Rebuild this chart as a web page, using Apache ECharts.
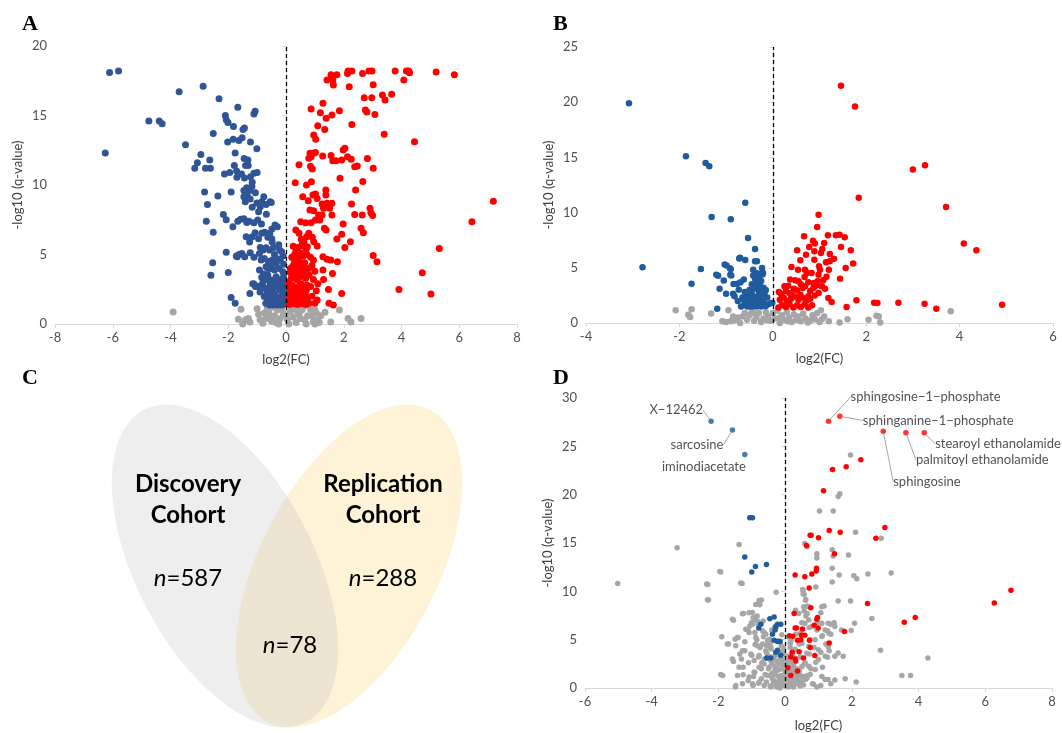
<!DOCTYPE html>
<html>
<head>
<meta charset="utf-8">
<script src="https://cdn.jsdelivr.net/npm/echarts/dist/echarts.min.js"></script>
<style>
  html, body { margin: 0; padding: 0; background: #fff; }
  #chart { width: 1062px; height: 733px; }
</style>
</head>
<body>
<div id="chart"></div>
<script>
// ---- panel A: discovery cohort volcano ----
var aDown = [[-6.11,18.1],[-5.8,18.2],[-6.26,12.3],[-4.75,14.6],[-4.39,14.6],[-4.29,14.4],[-3.7,16.7],[-2.87,17.1],[-3.48,12.9],[-2.95,12.2],[-2.64,11.8],[-3.07,11.6],[-3.16,11.2],[-2.79,11.2],[-2.62,11.2],[-2.82,9.5],[-2.72,8.6],[-2.76,7.4],[-2.52,6.6],[-2.36,9.2],[-2.54,4.4],[-2.6,3.5],[-2.07,5.16],[-2.0,3.7],[-1.9,1.9],[-1.76,1.5],[-2.32,16.2],[-1.67,15.6],[-1.11,15.1],[-1.07,15.3],[-2.1,15.0],[-2.07,14.7],[-2.01,14.5],[-1.82,14.2],[-2.52,13.7],[-1.49,14.0],[-1.44,14.1],[-2.02,13.1],[-1.83,13.3],[-1.63,13.2],[-1.52,13.4],[-1.23,13.1],[-1.01,12.6],[-1.76,12.3],[-1.45,11.9],[-1.32,11.8],[-1.4,11.4],[-1.31,11.4],[-1.79,11.4],[-1.71,11.0],[-2.13,10.8],[-1.95,10.9],[-1.7,10.55],[-1.54,10.8],[-1.44,10.5],[-1.23,10.6],[-1.11,10.85],[-1.17,10.2],[-1.0,10.9],[-1.9,9.5],[-1.46,9.6],[-1.36,9.8],[-1.26,9.6],[-1.34,9.2],[-1.41,8.8],[-1.24,9.0],[-1.46,9.16],[-1.18,9.9],[-1.06,9.45],[-0.77,9.16],[-0.51,8.75],[-0.69,8.6],[-0.89,8.44],[-0.95,8.08],[-1.17,8.4],[-1.01,8.7],[-0.84,8.8],[-2.17,7.87],[-2.07,7.5],[-1.84,7.0],[-1.67,7.4],[-1.57,7.53],[-1.46,7.58],[-1.36,7.3],[-1.28,7.39],[-1.11,7.29],[-0.98,7.48],[-0.85,7.19],[-0.68,7.89],[-0.74,6.6],[-0.49,6.83],[-0.3,7.0],[-0.38,7.12],[-1.38,6.28],[-1.26,5.9],[-1.07,6.57],[-0.95,6.14],[-1.17,6.28],[-0.84,6.52],[-0.56,6.52],[-0.63,6.24],[-0.49,6.14],[-1.69,4.84],[-1.53,5.08],[-1.24,5.13],[-1.11,4.8],[-0.89,5.5],[-0.79,5.32],[-0.69,5.49],[-0.57,5.32],[-0.43,5.5],[-0.22,5.32],[-0.92,5.08],[-0.86,4.6],[-0.75,4.72],[-0.61,4.5],[-0.48,4.6],[-0.34,4.36],[-0.2,4.6],[-0.69,4.12],[-0.52,4.0],[-0.4,3.88],[-0.23,4.0],[-0.11,3.76],[-0.92,3.88],[-0.84,3.36],[-0.69,3.21],[-0.63,3.53],[-0.49,3.17],[-0.34,3.4],[-0.23,3.17],[-0.09,3.36],[-1.11,2.88],[-1.01,2.69],[-0.89,2.73],[-0.75,2.57],[-0.57,2.69],[-0.46,2.49],[-0.33,2.69],[-0.2,2.49],[-0.08,2.69],[-1.25,2.2],[-0.75,1.97],[-0.63,1.77],[-0.52,1.97],[-0.4,1.73],[-0.29,1.92],[-0.15,1.73],[-0.06,1.97],[-0.57,1.37],[-0.43,1.37],[-0.29,1.37],[-0.15,1.37],[-0.06,1.44],[-0.7,1.49],[-1.72,4.9],[-1.63,5.0],[-1.43,4.83],[-1.15,2.9],[-1.06,2.7],[-0.55,8.8],[-0.8,3.0],[-0.55,3.0],[-0.3,3.0],[-0.12,2.2],[-0.38,2.2],[-0.65,2.2],[-0.9,2.3],[-0.48,5.9],[-0.25,5.7],[-0.15,5.2],[-0.1,4.9],[-0.4,5.0],[-0.62,4.0],[-0.78,3.6],[-0.1,1.8],[-0.25,1.55],[-0.5,1.6],[-0.35,2.95],[-0.6,2.4],[-0.18,2.8],[-0.3,4.7],[-0.08,4.3],[-0.55,4.3],[-0.05,2.3],[-0.05,3.0]];
var aUp = [[2.15,18.2],[2.13,18.03],[2.28,18.2],[2.65,18.03],[2.87,18.2],[2.98,18.2],[3.78,18.2],[4.17,18.2],[4.25,18.2],[4.28,18.08],[5.2,18.13],[5.83,17.94],[1.56,17.94],[1.76,17.94],[1.42,17.55],[1.62,17.55],[1.64,17.2],[2.19,17.07],[3.02,17.22],[4.08,17.55],[2.71,16.28],[2.97,16.28],[3.34,16.47],[3.43,16.12],[3.66,16.52],[1.28,15.88],[0.87,15.47],[1.19,15.2],[1.59,15.04],[1.85,15.35],[1.39,14.8],[2.75,15.4],[2.8,15.25],[3.08,15.08],[1.1,14.27],[1.34,14.0],[2.28,14.36],[3.4,13.65],[4.45,13.12],[0.96,13.6],[1.03,13.3],[0.83,12.28],[0.94,12.28],[0.79,11.92],[0.87,12.04],[1.02,12.33],[1.27,12.09],[1.56,12.13],[1.62,11.75],[1.73,11.75],[1.93,11.8],[1.98,12.52],[2.04,12.64],[2.13,12.04],[2.26,11.85],[2.38,11.32],[2.47,11.37],[2.82,11.9],[3.02,11.2],[0.45,11.46],[0.85,11.34],[0.91,11.15],[0.32,10.17],[0.71,10.0],[0.88,10.24],[1.87,10.48],[2.66,10.26],[1.38,9.64],[1.38,9.28],[0.58,9.16],[0.77,8.87],[0.93,9.28],[1.02,9.35],[1.08,9.02],[2.41,9.64],[1.25,8.63],[1.42,8.68],[1.59,8.68],[1.3,8.32],[0.96,8.15],[0.83,8.2],[1.13,7.84],[1.25,7.84],[1.59,7.84],[1.51,8.32],[2.27,8.63],[2.38,7.87],[2.64,7.84],[2.91,8.32],[2.94,8.0],[3.0,7.8],[0.51,7.36],[0.68,7.29],[0.87,7.29],[1.02,7.48],[1.17,7.48],[1.33,6.88],[1.39,6.76],[1.98,7.19],[1.93,6.45],[1.76,6.12],[2.23,5.92],[2.6,6.88],[2.68,6.57],[0.34,6.76],[0.45,6.52],[0.53,6.09],[0.62,5.92],[0.71,6.28],[0.79,6.52],[0.91,6.24],[0.96,5.92],[1.08,5.61],[0.57,5.61],[0.74,5.56],[0.34,5.2],[2.04,5.5],[1.28,4.84],[1.42,4.65],[1.55,4.6],[1.78,4.48],[1.28,3.88],[1.61,3.64],[1.3,3.21],[1.47,2.49],[1.93,2.2],[1.49,1.49],[1.64,1.37],[1.0,1.49],[1.08,1.73],[3.02,4.92],[3.15,4.48],[3.91,2.49],[4.72,3.69],[5.02,2.16],[5.31,5.44],[6.44,7.36],[7.18,8.83],[0.12,1.4],[0.2,1.5],[0.3,1.45],[0.4,1.4],[0.5,1.5],[0.6,1.45],[0.7,1.4],[0.8,1.5],[0.15,2.0],[0.25,2.1],[0.35,1.9],[0.45,2.2],[0.55,2.0],[0.65,2.1],[0.75,1.9],[0.9,2.0],[0.12,2.6],[0.22,2.8],[0.32,2.5],[0.42,2.7],[0.52,2.9],[0.62,2.6],[0.72,2.8],[0.85,2.7],[0.18,3.3],[0.28,3.5],[0.38,3.2],[0.48,3.4],[0.58,3.6],[0.68,3.3],[0.8,3.5],[0.95,3.2],[0.15,4.0],[0.25,4.2],[0.35,3.9],[0.45,4.3],[0.55,4.1],[0.65,4.4],[0.78,4.0],[0.9,4.2],[0.2,4.8],[0.3,5.0],[0.4,4.7],[0.5,5.1],[0.6,4.9],[0.72,5.0],[0.85,4.8],[0.25,5.6],[0.4,5.5],[0.55,5.7],[0.7,5.4],[0.1,3.0],[0.1,2.2],[0.1,1.7],[0.18,1.6],[0.28,1.75],[0.38,1.65],[0.48,1.8],[0.58,1.7],[0.68,1.75],[0.2,2.4],[0.3,2.3],[0.4,2.45],[0.5,2.5],[0.6,2.35],[0.7,2.4],[0.15,3.7],[0.35,3.6],[0.5,3.8],[0.65,3.9],[0.3,4.5],[0.45,4.6],[1.05,2.4],[1.1,2.9],[1.0,3.8],[0.95,4.6]];
var aNs = [[-3.91,0.87],[-1.56,1.06],[-1.65,0.35],[-1.4,0.3],[-1.3,0.4],[-1.5,0.0],[-1.25,0.15],[-0.95,0.7],[-0.75,0.8],[-0.6,0.9],[-0.9,0.3],[-0.7,0.4],[-0.5,0.2],[-0.4,0.6],[-0.3,1.0],[-0.2,0.4],[-0.1,0.8],[0.05,0.3],[0.15,0.9],[0.25,0.5],[0.35,0.1],[0.45,0.7],[0.55,1.0],[0.65,0.3],[0.75,0.6],[0.85,1.05],[0.95,0.2],[1.05,0.8],[1.1,0.3],[1.15,0.1],[1.35,0.85],[1.55,0.15],[1.85,1.0],[2.15,0.4],[2.25,0.15],[2.6,0.4],[-0.8,0.05],[-0.55,0.5],[-0.35,0.1],[-0.15,1.15],[0.0,0.6],[0.1,0.0],[0.3,1.1],[0.5,0.4],[0.7,0.0],[0.9,0.6],[1.0,1.0],[-1.0,1.1],[-0.65,1.15],[0.2,1.2],[0.6,1.2],[-0.25,0.0],[-0.45,1.2],[0.4,0.9],[1.2,0.6],[1.0,0.0]];

// ---- panel B: replication cohort volcano ----
var bDown = [[-3.08,19.9],[-2.79,5.04],[-1.86,15.1],[-1.44,14.5],[-1.36,14.2],[-1.31,9.6],[-0.9,9.4],[-0.59,10.9],[-0.53,7.7],[-0.38,6.7],[-1.54,4.9],[-1.74,3.56],[-0.99,5.2],[-0.9,4.9],[-0.72,5.85],[-0.7,5.9],[-0.59,5.7],[-0.38,5.6],[-0.34,5.6],[-1.17,4.29],[-0.89,4.3],[-1.19,1.3],[-0.42,4.83],[-0.23,4.98],[-0.21,4.53],[-1.03,5.29],[-0.92,4.95],[-1.21,4.38],[-1.05,3.84],[-1.14,3.11],[-1.0,2.66],[-0.91,4.38],[-0.84,3.53],[-0.76,3.56],[-0.69,3.68],[-0.62,3.93],[-0.73,3.02],[-0.85,2.66],[-0.82,2.42],[-0.75,1.99],[-0.62,2.11],[-0.55,1.5],[-0.45,1.5],[-0.35,1.5],[-0.25,1.5],[-0.15,1.55],[-0.5,2.0],[-0.4,2.1],[-0.3,1.9],[-0.2,2.0],[-0.55,2.5],[-0.45,2.6],[-0.35,2.4],[-0.25,2.5],[-0.5,3.0],[-0.4,3.1],[-0.3,2.9],[-0.2,3.2],[-0.45,3.5],[-0.35,3.6],[-0.28,3.4],[-0.38,4.0],[-0.3,4.2],[-0.42,4.3],[-0.33,4.5],[-0.6,1.8],[-0.65,2.3],[-0.1,1.7],[-0.12,2.3],[-0.05,1.8],[-0.68,1.5],[-0.18,2.7],[-0.6,2.8],[-0.25,3.8],[-0.15,3.0],[-0.01,1.84],[-0.4,1.65],[-0.3,2.2],[-0.48,2.35],[-0.36,3.3],[-0.22,4.4]];
var bUp = [[1.46,21.5],[1.76,19.6],[1.84,11.35],[3.0,13.9],[3.26,14.3],[3.71,10.5],[4.09,7.2],[4.36,6.6],[0.98,9.8],[0.95,8.7],[0.67,7.85],[0.86,7.46],[0.9,7.19],[1.18,7.95],[1.35,7.95],[1.43,8.0],[1.54,7.76],[1.46,6.89],[1.67,6.59],[1.72,5.38],[1.56,4.98],[1.44,4.0],[0.78,6.89],[0.52,6.59],[1.1,7.25],[1.06,6.7],[1.03,6.34],[0.89,6.5],[0.89,5.74],[0.71,6.19],[1.22,6.25],[1.31,5.83],[1.22,5.59],[1.14,5.5],[0.99,5.14],[0.59,5.68],[0.4,5.08],[0.54,4.83],[0.69,4.83],[0.73,4.53],[0.83,4.53],[1.01,4.83],[0.98,4.38],[1.2,4.83],[0.37,3.93],[0.48,3.87],[0.55,3.78],[0.68,4.17],[0.76,3.69],[0.88,3.63],[0.96,3.78],[1.08,3.87],[0.25,3.32],[0.33,3.38],[0.64,3.17],[0.69,3.32],[0.87,3.17],[0.98,2.72],[1.05,3.32],[0.13,2.81],[0.41,2.57],[0.52,2.96],[0.59,2.57],[0.76,2.42],[0.73,2.11],[1.19,2.27],[1.26,1.9],[1.58,1.45],[1.79,2.05],[2.17,1.84],[2.24,1.81],[2.69,1.84],[3.25,1.75],[3.5,1.3],[4.91,1.66],[0.12,1.4],[0.2,1.6],[0.28,1.45],[0.36,1.7],[0.44,1.4],[0.52,1.6],[0.6,1.45],[0.68,1.7],[0.76,1.4],[0.84,1.6],[0.15,2.1],[0.23,2.3],[0.31,2.0],[0.39,2.2],[0.47,2.4],[0.55,2.1],[0.63,2.3],[0.71,2.0],[0.8,2.2],[0.9,2.5],[0.18,2.6],[0.28,2.9],[0.36,2.7],[0.45,3.1],[0.6,3.5],[0.8,2.9],[0.94,3.4],[1.12,3.1],[1.15,4.2],[0.3,1.95]];
var bNs = [[-2.08,1.15],[-1.74,1.24],[-1.81,0.75],[-1.77,0.55],[-1.32,0.85],[-0.95,1.15],[-1.08,0.15],[-1.0,0.1],[-0.9,0.15],[-0.82,0.25],[-0.7,0.0],[-0.65,0.6],[-0.6,0.9],[-0.55,0.3],[-0.5,0.7],[-0.45,1.1],[-0.4,0.2],[-0.35,0.5],[-0.3,0.9],[-0.25,0.1],[-0.2,0.4],[-0.15,1.0],[-0.1,0.6],[-0.05,0.2],[0.0,0.9],[0.05,0.4],[0.1,1.1],[0.15,0.0],[0.2,0.7],[0.25,0.3],[0.3,1.0],[0.35,0.5],[0.4,0.1],[0.45,0.8],[0.5,0.3],[0.55,0.6],[0.6,0.15],[0.7,0.4],[0.8,0.2],[0.9,0.35],[1.03,1.15],[1.0,0.1],[1.2,0.15],[1.43,0.05],[1.6,0.35],[2.05,0.3],[2.22,0.65],[2.27,0.6],[2.3,0.05],[3.81,1.06],[1.05,0.35],[-0.75,0.5],[0.65,0.85],[-0.85,0.6],[0.85,0.7],[0.15,0.5],[-0.12,0.25],[0.32,0.15],[0.75,0.05],[-0.38,0.85],[1.1,0.6],[0.95,0.9]];

// ---- panel C: overlap of the two cohorts ----
var vennSets = ['Discovery\nCohort', 'Replication\nCohort'];
var vennCounts = [587, 288, 78]; // discovery only, replication only, both

// ---- panel D: named metabolites ----
var dDown = [[-1.06,17.6],[-0.98,17.6],[-1.21,13.56],[-0.89,12.57],[-0.56,12.78],[-1.0,12.0],[-0.73,6.6],[-0.79,6.2],[-0.46,7.17],[-0.33,7.35],[-0.28,6.3],[-0.23,6.6],[-0.13,6.6],[-0.3,6.0],[-0.38,5.57],[-0.33,4.95],[-0.23,4.8],[-0.15,4.8],[-0.28,3.7],[-0.23,3.9],[-0.55,3.1],[-0.43,3.1],[-0.13,3.4]];
var dUp = [[2.27,23.6],[1.83,22.9],[1.42,22.6],[1.15,20.4],[2.99,16.6],[2.72,15.5],[1.32,16.3],[1.65,16.1],[0.75,15.8],[0.78,15.8],[1.0,15.55],[0.64,14.75],[1.48,13.9],[0.94,12.4],[0.93,12.1],[0.8,11.8],[0.3,11.7],[0.59,11.5],[0.72,10.35],[0.77,8.3],[6.77,10.1],[6.27,8.8],[2.47,8.75],[3.9,7.3],[3.57,6.8],[1.78,5.85],[1.32,4.65],[0.27,7.7],[0.95,7.1],[0.97,7.3],[0.87,6.5],[0.99,6.2],[0.3,6.2],[0.34,6.2],[0.52,6.1],[0.13,5.4],[0.23,5.35],[0.49,5.45],[0.59,5.45],[0.37,4.95],[0.47,5.0],[0.73,4.95],[0.75,4.2],[0.21,3.7],[0.42,3.75],[0.17,3.2],[0.3,3.0],[0.32,2.8],[0.55,3.1],[0.89,3.35],[0.08,2.1],[0.17,1.3],[0.37,1.75]];
var dNs = [[-5.02,10.8],[-3.24,14.5],[-1.38,14.85],[-1.93,12.0],[-2.32,10.7],[-2.3,9.1],[-1.29,10.8],[-0.27,9.9],[-0.71,9.1],[-0.76,8.6],[-1.25,7.7],[-1.55,7.0],[-0.98,7.8],[-0.84,7.44],[-0.91,7.1],[-1.01,6.76],[-0.81,6.59],[-0.66,6.93],[-1.11,6.0],[-1.41,5.22],[-1.5,5.05],[-1.7,4.54],[-1.21,4.78],[-1.36,3.52],[-1.21,3.86],[-1.31,3.0],[-1.55,2.73],[-1.87,1.3],[-1.26,2.15],[-1.26,1.37],[-1.49,0.1],[-1.11,0.78],[-0.96,0.27],[-0.91,1.64],[-0.71,1.98],[-0.63,3.0],[-0.51,3.34],[-0.42,4.03],[-0.56,4.37],[-0.91,5.73],[-1.06,6.42],[-0.63,5.73],[-0.47,5.05],[-0.32,6.08],[-0.22,3.69],[-0.12,4.37],[-0.3,1.98],[-0.4,1.13],[-0.56,0.61],[-0.71,0.96],[-0.22,0.61],[-0.12,1.3],[-0.07,2.32],[-0.45,0.2],[-0.35,0.5],[-0.25,0.1],[-0.15,0.8],[-0.05,0.3],[0.05,1.0],[0.15,0.4],[0.25,0.1],[-0.3,1.4],[-0.2,1.9],[-0.1,2.6],[0.0,1.6],[0.1,2.2],[0.2,0.9],[0.3,0.5],[-0.4,2.5],[-0.5,2.0],[-0.6,1.4],[-0.35,3.0],[-0.25,2.8],[-0.15,3.2],[-0.05,2.0],[0.05,2.8],[0.15,1.7],[0.25,2.4],[0.35,1.2],[0.45,0.7],[0.55,0.3],[0.65,1.0],[-0.7,2.6],[-0.8,3.2],[-0.55,3.6],[-0.45,4.6],[-0.2,4.9],[-0.1,5.5],[-0.3,6.4],[-0.4,6.0],[-0.05,3.6],[0.1,3.3],[-0.75,4.2],[-0.85,5.0],[-0.65,5.3],[-0.9,4.5],[-1.0,3.4],[-1.1,2.6],[-0.95,1.2],[-0.8,0.5],[0.4,1.6],[1.96,24.1],[1.59,19.8],[1.64,20.1],[1.03,18.3],[1.44,18.3],[2.11,16.1],[2.88,15.5],[0.59,14.95],[0.66,14.6],[0.95,13.45],[0.95,13.9],[1.41,14.3],[1.44,13.65],[1.9,13.75],[1.41,12.4],[1.62,11.7],[2.06,11.6],[2.15,11.3],[2.48,11.8],[3.18,11.9],[1.41,10.96],[0.92,10.44],[0.54,10.1],[1.59,9.0],[1.96,9.0],[1.1,8.4],[2.6,7.2],[2.08,6.69],[2.86,3.9],[4.28,3.1],[3.5,1.3],[3.76,1.3],[2.13,0.61],[1.8,0.96],[1.49,0.82],[1.2,0.89],[0.54,9.76],[0.61,9.08],[0.56,8.4],[0.66,7.71],[0.71,7.03],[0.8,6.35],[0.95,6.0],[1.1,6.69],[1.29,6.69],[1.47,6.76],[1.2,6.0],[1.31,5.67],[1.49,6.35],[1.69,6.0],[1.98,5.94],[1.1,5.32],[0.9,4.98],[0.71,4.3],[1.29,4.3],[1.49,3.28],[1.2,3.28],[1.0,2.94],[0.71,2.25],[0.41,1.57],[0.9,1.91],[1.29,0.89],[0.61,0.89],[0.31,0.55],[1.59,3.62],[1.0,3.96],[0.75,4.98],[1.74,3.28],[0.59,6.69],[0.46,5.67],[0.31,8.05],[0.41,7.71],[0.71,8.4],[0.05,0.2],[0.15,1.3],[0.25,0.7],[0.35,2.0],[0.45,0.2],[0.55,1.2],[0.2,3.0],[0.3,4.0],[0.45,3.2],[0.6,2.6],[0.75,1.4],[0.85,0.4],[0.95,0.1],[1.1,1.2],[0.15,4.6],[0.5,4.6],[0.1,5.3],[0.65,3.6],
  [-1.96,12.06],[-2.35,10.76],[-2.33,9.12],[-1.33,10.86],[-0.78,9.05],[-0.88,8.64],[-1.28,7.69],[-1.58,7.1],[-1.08,7.79],[-0.96,7.28],[-0.83,6.94],[-0.73,6.59],[-0.98,6.59],[-1.18,6.08],[-1.08,5.74],[-0.68,5.91],[-0.58,5.57],[-0.88,5.23],[-1.43,5.23],[-1.73,4.54],[-1.9,5.3],[-1.48,4.37],[-1.28,3.86],[-1.03,3.52],[-1.58,3.0],[-1.38,2.15],[-1.43,1.3],[-1.93,1.4],[-1.48,0.27],[-1.28,0.44],[-1.08,1.13],[-0.93,1.64],[-0.78,2.15],[-0.63,2.49],[-0.93,2.84],[-0.78,3.35],[-0.58,3.86],[-0.68,4.54],[-0.83,4.37],[-0.53,4.89],[-0.43,4.2],[-0.38,3.18],[-0.48,2.15],[-0.33,1.64],[-0.23,2.49],[-0.13,1.98],[-0.53,1.3],[-0.38,0.96],[-0.23,0.61],[-0.08,1.13],[-0.13,0.27],[-0.43,0.1],[-0.63,0.27],[-0.78,0.61],[-0.98,0.44],[0.12,1.13],[0.32,0.44],[0.52,0.79],[0.67,1.3],[0.82,0.44],[1.07,0.27],[1.37,0.44],[0.22,2.15],[0.42,1.81],[0.57,2.49],[0.77,1.98],[0.92,2.66],[1.12,2.15],[1.27,3.18],[1.07,3.69],[0.87,4.2],[0.72,3.52],[0.52,10.18],[0.57,9.67],[0.62,9.16],[0.67,8.47],[0.57,7.96],[0.62,7.45],[0.5,6.76],[0.72,6.25],[0.97,6.76],[1.07,7.79],[1.17,8.47],[1.27,5.91],[1.37,5.57],[1.12,5.4],[1.22,4.54],[1.32,3.86],[1.37,6.59],[0.32,5.57],[0.42,4.54],[0.22,3.52],[0.17,4.89],
  [-0.3,0.3],[-0.2,1.2],[-0.1,0.5],[0.0,0.2],[0.05,1.4],[0.1,0.6],[0.2,0.2],[0.25,1.5],[0.35,0.9],[0.4,0.4],[-0.4,1.5],[-0.3,2.2],[-0.2,2.5],[-0.1,1.1],[0.0,2.4],[0.1,1.9],[0.2,2.7],[0.3,3.1],[0.05,3.2],[-0.15,3.7],[-0.05,4.1],[0.15,4.2],[0.25,2.0],[-0.35,0.8],[-0.25,1.8],[-0.15,0.0],[0.0,1.0],[0.1,0.1],[0.3,1.6],[0.45,1.3],[0.5,2.2],[-0.45,2.9],[-0.3,3.4],[-0.2,0.3],[-0.05,0.9],[0.05,0.6],[0.15,0.9],[0.25,0.3],[-0.1,3.0],[0.1,2.6]];
var dLabelNames = ['X\u221212462', 'sarcosine', 'iminodiacetate', 'sphingosine\u22121\u2212phosphate', 'sphinganine\u22121\u2212phosphate', 'stearoyl ethanolamide', 'palmitoyl ethanolamide', 'sphingosine'];
var dLabelPoints = [[-2.22,27.6],[-1.58,26.7],[-1.21,24.15],[1.3,27.6],[1.64,28.1],[4.17,26.4],[3.62,26.4],[2.94,26.55]];

var xTicksA = [-8, 8], xTicksB = [-4, 6], xTicksD = [-6, 8];
var yMaxA = 20, yMaxB = 25, yMaxD = 30;

var FONT = 'Lato';
var BLUE_A = '#2f5597', BLUE = '#1f5c9e', RED = '#ff0000', GREY = '#a6a6a6';

// where each label of panel D sits relative to its point
var labelOffsets = [[-8, -11, 'right'], [-9, 15, 'right'], [1, 12, 'right'], [22, -24, 'left'],
                    [23, 4, 'left'], [11, 11, 'left'], [10, 27, 'left'], [10, 50, 'left']];

function xAx(i, range) {
  return {
    gridIndex: i, type: 'value', min: range[0], max: range[1], interval: 2,
    name: 'log2(FC)', nameLocation: 'middle', nameGap: 29,
    nameTextStyle: {color: '#404040', fontSize: 13, fontFamily: FONT},
    axisLine: {onZero: false, lineStyle: {color: '#d9d9d9'}},
    axisTick: {show: true, length: 4, lineStyle: {color: '#d9d9d9'}},
    axisLabel: {color: '#505050', fontSize: 13, fontFamily: FONT, margin: 7},
    splitLine: {show: false}
  };
}
function yAx(i, max, step) {
  return {
    gridIndex: i, type: 'value', min: 0, max: max, interval: step,
    name: '-log10 (q-value)', nameLocation: 'middle', nameGap: 31,
    nameTextStyle: {color: '#404040', fontSize: 13, fontFamily: FONT},
    axisLine: {show: true, lineStyle: {color: '#d9d9d9'}},
    axisTick: {show: true, length: 4, lineStyle: {color: '#d9d9d9'}},
    axisLabel: {color: '#505050', fontSize: 13, fontFamily: FONT, margin: 8},
    splitLine: {show: false}
  };
}
function dots(i, data, color, size, extra) {
  var s = {
    type: 'scatter', xAxisIndex: i, yAxisIndex: i, data: data, symbolSize: size,
    itemStyle: {color: color, opacity: 1}, silent: true, animation: false
  };
  if (extra) s.markLine = {
    silent: true, symbol: 'none', label: {show: false}, animation: false,
    lineStyle: {color: '#000', type: [4, 3], width: 1.3},
    data: [{xAxis: 0}]
  };
  return s;
}

var chart = echarts.init(document.getElementById('chart'));

var venn = [
  {type: 'circle', x: 349, y: 566, rotation: -0.48, scaleX: 0.505, shape: {cx: 0, cy: 0, r: 176},
   style: {fill: '#fef3d6'}, z: 1},
  {type: 'circle', x: 225, y: 566, rotation: 0.48, scaleX: 0.505, shape: {cx: 0, cy: 0, r: 176},
   style: {fill: 'rgba(200,200,200,0.3)'}, z: 2}
];
var vennText = [[188, 500, vennSets[0]], [383, 500, vennSets[1]]];
vennText.forEach(function (t) {
  venn.push({type: 'text', x: t[0], y: t[1], z: 5,
    style: {text: t[2], fill: '#000', font: 'bold 24px Lato', textAlign: 'center', textVerticalAlign: 'middle', lineHeight: 31}});
});
var countPos = [[188, 578], [383, 578], [290, 645]];
vennCounts.forEach(function (n, k) {
  venn.push({type: 'text', x: countPos[k][0], y: countPos[k][1], z: 5,
    style: {text: '{i|n}=' + n, fill: '#000', font: '24px Lato', textAlign: 'center', textVerticalAlign: 'middle',
      rich: {i: {fontStyle: 'italic', fontSize: 24, fontFamily: 'Lato'}}}});
});

var letters = [['A', 22, 13], ['B', 553, 13], ['C', 22, 367], ['D', 553, 367]];

chart.setOption({
  backgroundColor: '#fff',
  animation: false,
  title: letters.map(function (l) {
    return {text: l[0], left: l[1], top: l[2], padding: 0,
      textStyle: {fontFamily: 'Liberation Serif', fontWeight: 'bold', fontSize: 22, color: '#000'}};
  }),
  grid: [
    {left: 55, right: 545, top: 46, bottom: 409},
    {left: 586, right: 9, top: 47, bottom: 410},
    {left: 585, right: 10, top: 398, bottom: 42}
  ],
  xAxis: [xAx(0, xTicksA), xAx(1, xTicksB), Object.assign(xAx(2, xTicksD), {nameGap: 31})],
  yAxis: [yAx(0, yMaxA, 5), yAx(1, yMaxB, 5), yAx(2, yMaxD, 5)],
  graphic: venn,
  series: [
    dots(0, aNs, GREY, 7, true),
    dots(0, aDown, BLUE_A, 7),
    dots(0, aUp, RED, 7),
    dots(1, bNs, GREY, 6.5, true),
    dots(1, bDown, BLUE, 6.5),
    dots(1, bUp, RED, 6.5),
    dots(2, dNs, GREY, 5.5, true),
    dots(2, dDown, BLUE, 5.5),
    dots(2, dUp, RED, 5.5),
    {
      type: 'scatter', xAxisIndex: 2, yAxisIndex: 2, symbolSize: 5.5, silent: true, animation: false,
      data: dLabelPoints.map(function (p, k) {
        return {name: dLabelNames[k], value: p, itemStyle: {color: p[0] < 0 ? BLUE : RED},
          labelLine: {show: k !== 2}};
      }),
      label: {show: true, position: 'right', formatter: '{b}', color: '#262626', fontSize: 13, fontFamily: FONT},
      labelLine: {show: true, length2: 0, lineStyle: {color: '#a6a6a6', width: 1}},
      labelLayout: function (p) {
        var o = labelOffsets[p.dataIndex];
        var cx = p.rect.x + p.rect.width / 2, cy = p.rect.y + p.rect.height / 2;
        return {x: cx + o[0], y: cy + o[1], align: o[2], verticalAlign: 'middle'};
      }
    }
  ]
});
</script>
</body>
</html>
